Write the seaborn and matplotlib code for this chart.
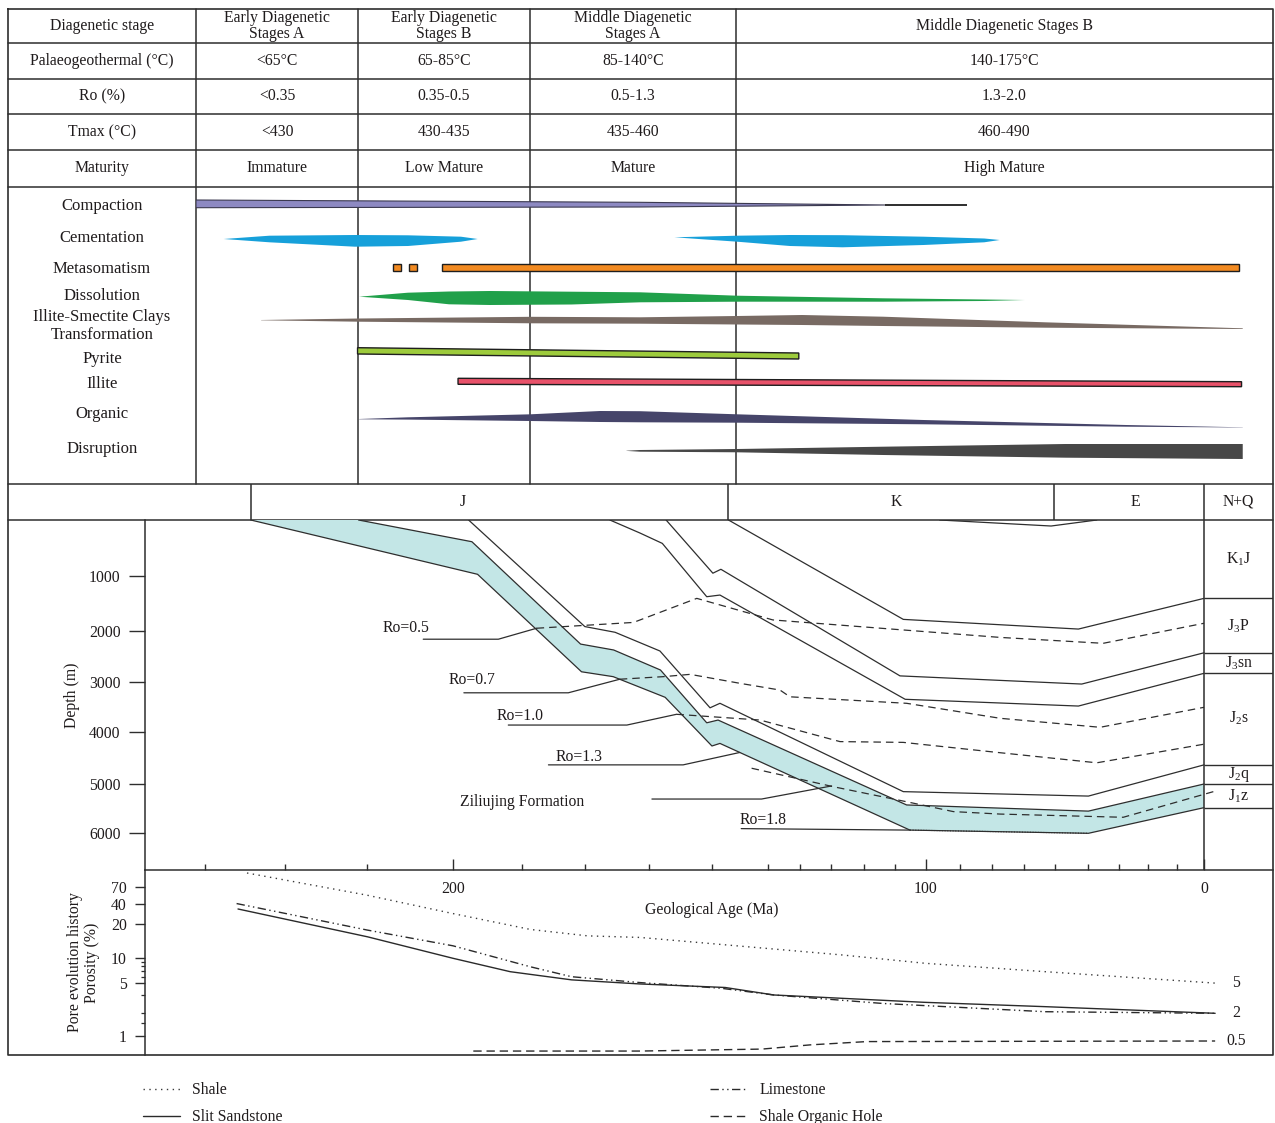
import numpy as np
import matplotlib
matplotlib.use("Agg")
import matplotlib.pyplot as plt
import seaborn as sns

# ------------------------------------------------------------------
# Diagenetic stage table
# ------------------------------------------------------------------
row_titles = ["Diagenetic stage", "Palaeogeothermal (°C)", "Ro (%)", "Tmax (°C)", "Maturity"]
stage_headers = ["Early Diagenetic\nStages A", "Early Diagenetic\nStages B",
                 "Middle Diagenetic\nStages A", "Middle Diagenetic Stages B"]
palaeotemp = ["<65°C", "65-85°C", "85-140°C", "140-175°C"]
ro_range = ["<0.35", "0.35-0.5", "0.5-1.3", "1.3-2.0"]
tmax_range = ["<430", "430-435", "435-460", "460-490"]
maturity = ["Immature", "Low Mature", "Mature", "High Mature"]

# ------------------------------------------------------------------
# Diagenetic processes: position along the sequence (%) and the
# extent of each intensity profile above / below its row line
# ------------------------------------------------------------------
process_names = ["Compaction", "Cementation", "Metasomatism", "Dissolution",
                 "Illite-Smectite Clays\nTransformation", "Pyrite", "Illite",
                 "Organic", "Disruption"]

compaction_x = [0.0, 41.2, 64.0]
compaction_up = [4.0, 1.7, -1.0]
compaction_dn = [3.7, 3.0, 1.0]
compaction_tail_end = 71.6

cement1_x = [2.57, 6.82, 14.76, 19.68, 24.6, 26.15]
cement1_up = [1.0, 4.3, 5.0, 4.7, 3.3, 1.0]
cement1_dn = [-1.0, 2.3, 6.7, 6.0, 1.7, -1.0]
cement2_x = [44.42, 50.25, 55.15, 60.03, 67.55, 73.19, 74.62]
cement2_up = [2.7, 4.3, 5.0, 4.8, 3.3, 1.5, 0.0]
cement2_dn = [-2.7, 1.7, 6.0, 7.3, 5.0, 2.3, 0.0]

metasomatism_spans = [(18.26, 19.02), (19.78, 20.52), (22.8, 96.88)]

dissolution_x = [15.15, 19.68, 23.49, 27.28, 34.86, 41.23, 50.25, 63.79, 73.19, 76.95]
dissolution_up = [1.3, 5.3, 6.5, 7.0, 6.3, 5.7, 2.3, -0.3, -1.5, -2.0]
dissolution_dn = [-1.3, 2.0, 6.3, 7.0, 6.5, 4.3, 3.7, 3.7, 3.0, 2.0]

ismectite_x = [6.05, 15.08, 31.07, 41.23, 50.25, 56.27, 63.79, 78.83, 97.19]
ismectite_up = [2.0, 3.5, 5.2, 4.7, 6.0, 7.0, 5.3, -0.3, -6.3]
ismectite_dn = [-1.7, -0.3, 1.3, 1.7, 2.5, 3.0, 4.0, 5.7, 7.0]

pyrite_span = (15.0, 55.97)
illite_span = (24.33, 97.08)

organic_x = [15.15, 19.68, 31.07, 37.51, 41.23, 50.25, 67.55, 86.35, 97.19]
organic_up = [0.0, 1.7, 4.7, 8.0, 7.8, 4.7, -1.0, -6.0, -8.3]
organic_dn = [0.3, 0.6, 2.0, 3.0, 3.3, 3.7, 5.3, 7.7, 8.5]

disruption_x = [39.97, 41.23, 50.25, 63.79, 80.72, 97.19]
disruption_up = [0.3, 1.0, 2.0, 4.3, 7.0, 7.0]
disruption_dn = [-0.1, 0.7, 1.3, 4.0, 6.7, 8.0]

# ------------------------------------------------------------------
# Burial history (age in Ma, depth in m)
# ------------------------------------------------------------------
period_names = ["J", "K", "E", "N+Q"]
period_bounds = [242.8, 141.7, 53.9, 0.0]
period_label_age = [198.0, 106.2, 24.8, -12.4]

j1z_top_age = [220.0, 196.0, 173.0, 166.0, 156.1, 146.3, 143.9, 104.0, 41.5, 0.0]
j1z_top_depth = [0, 390, 2255, 2370, 2760, 3810, 3755, 5425, 5550, 5000]
j1z_base_age = [242.8, 194.8, 172.8, 166.1, 155.1, 145.2, 143.5, 103.3, 41.5, 0.0]
j1z_base_depth = [0, 975, 2795, 2890, 3300, 4265, 4215, 5935, 6000, 5480]
j2q_top_age = [196.7, 172.1, 165.7, 156.2, 145.6, 143.5, 104.7, 41.5, 0.0]
j2q_top_depth = [0, 1920, 2025, 2390, 3510, 3420, 5155, 5245, 4630]
j2s_top_age = [166.8, 160.4, 155.7, 146.3, 143.5, 104.3, 45.1, 0.0]
j2s_top_depth = [0, 235, 420, 1380, 1350, 3340, 3475, 2825]
j3sn_top_age = [154.9, 145.0, 143.3, 105.4, 43.9, 0.0]
j3sn_top_depth = [0, 955, 885, 2875, 3035, 2425]
j3p_top_age = [141.7, 104.7, 45.1, 0.0]
j3p_top_depth = [0, 1790, 1965, 1410]
erosion_age = [94.9, 54.9, 38.5]
erosion_depth = [0, 108, 0]

formation_names = ["K$_1$J", "J$_3$P", "J$_3$sn", "J$_2$s", "J$_2$q", "J$_1$z"]

ro05_age = [182.3, 161.8, 148.4, 132.3, 73.2, 36.2, 0.0]
ro05_depth = [1950, 1845, 1410, 1800, 2125, 2240, 1860]
ro07_age = [164.7, 155.5, 149.8, 139.3, 130.8, 128.7, 104.0, 73.2, 37.3, 0.0]
ro07_depth = [2940, 2890, 2845, 3020, 3155, 3290, 3420, 3720, 3900, 3500]
ro10_age = [152.7, 135.0, 118.1, 104.7, 73.2, 38.5, 0.0]
ro10_depth = [3640, 3755, 4180, 4195, 4395, 4590, 4230]
ro13_age = [136.8, 119.5, 104.0, 90.0, 73.2, 29.0, -4.3]
ro13_depth = [4695, 5055, 5360, 5560, 5610, 5675, 5140]
ro18_age = [103.3, 41.5]
ro18_depth = [5935, 6000]

callout_text = ["Ro=0.5", "Ro=0.7", "Ro=1.0", "Ro=1.3", "Ziliujing Formation", "Ro=1.8"]
callout_label_age = [210.0, 196.0, 185.8, 173.3, 185.4, 134.4]
callout_label_depth = [1945, 2955, 3675, 4480, 5365, 5730]
callout_leader_age = [[206.3, 190.4, 182.3], [197.7, 175.6, 164.7], [188.3, 163.2, 152.7],
                      [179.8, 151.3, 139.3], [157.9, 134.7, 119.9], [139.0, 103.3]]
callout_leader_depth = [[2160, 2160, 1950], [3210, 3210, 2940], [3855, 3855, 3640],
                        [4630, 4630, 4390], [5305, 5305, 5040], [5905, 5935]]

age_major = [200, 100, 0]
age_minor = [252.5, 235.6, 218.1, 185.5, 172.1, 158.5, 145.2, 133.4, 126.6, 119.9,
             113.1, 106.5, 87.6, 76.1, 64.8, 53.6, 41.8, 30.6, 20.0, 9.7]
depth_ticks = [1000, 2000, 3000, 4000, 5000, 6000]

# ------------------------------------------------------------------
# Porosity evolution (%)
# ------------------------------------------------------------------
shale_age = [243.6, 218.2, 200.0, 183.6, 171.5, 160.4, 117.6, 100.0, 57.0, -5.0]
shale_phi = [100, 54, 29, 18, 15.8, 15.3, 10.7, 8.7, 6.9, 5]
sand_age = [245.5, 218.1, 200.0, 187.9, 174.9, 160.4, 142.4, 132.1, 100.4, 57.1, -4.0]
sand_phi = [34, 15.5, 10, 6.9, 5.5, 4.9, 4.4, 3.5, 2.8, 2.45, 2]
lime_age = [245.8, 218.2, 200.0, 183.6, 174.9, 160.4, 143.3, 132.1, 109.0, 57.1, -4.0]
lime_phi = [41, 17.8, 12.9, 7.9, 6.0, 5.1, 4.3, 3.5, 2.7, 2.1, 2]
org_age = [195.7, 160.4, 134.6, 124.4, 112.4, -4.0]
org_phi = [0.17, 0.17, 0.21, 0.33, 0.47, 0.5]
phi_end_labels = ["5", "2", "0.5"]
phi_end_values = [5, 2, 0.5]
phi_ticks = [1, 5, 10, 20, 40, 70]
phi_minor = [9, 8, 7, 6, 3.5, 2, 1.5]

# ------------------------------------------------------------------
# Style
# ------------------------------------------------------------------
sns.set_theme(style="ticks")
plt.rcParams["font.family"] = ["Liberation Serif", "DejaVu Serif"]
plt.rcParams["mathtext.fontset"] = "custom"
plt.rcParams["mathtext.rm"] = "Liberation Serif"
plt.rcParams["mathtext.it"] = "Liberation Serif:italic"
plt.rcParams["font.size"] = 11.3

INK = "#1f1b1c"
LINE = "#2e2e2e"
FS = 11.3
FS_PROC = 12

W, H = 1275, 1123
fig = plt.figure(figsize=(W / 100, H / 100), dpi=100)
fig.patch.set_facecolor("white")


def box(x0, y0, x1, y1):
    return [x0 / W, 1 - y1 / H, (x1 - x0) / W, (y1 - y0) / H]


# page grid (pixels)
FRAME_L, FRAME_R, FRAME_T, FRAME_B = 8, 1273, 9, 1055
TABLE_ROWS = [9, 43, 79, 114, 150, 187]
STAGE_COLS = [8, 196, 358, 530, 736, 1273]
PROC_BOTTOM = 484
PERIOD_BOTTOM = 520
AXIS_LEFT = 145
AGE_AXIS_Y = 870

# ------------------------------------------------------------------
# Axis scales: piecewise scales following the drawn tick spacing
# ------------------------------------------------------------------
AGE_KNOTS = np.array([400.0, 200.0, 100.0, 0.0, -60.0])
AGE_PIX = np.array([453 - 200 * 4.725, 453.0, 925.5, 1204.0, 1204 + 60 * 2.785])


def age_fwd(a):
    return np.interp(-np.asarray(a, dtype=float), -AGE_KNOTS, AGE_PIX)


def age_inv(p):
    return -np.interp(np.asarray(p, dtype=float), AGE_PIX, -AGE_KNOTS)


DEPTH_KNOTS = np.array([-2000, 0, 1000, 2000, 3000, 4000, 5000, 6000, 9000], dtype=float)
DEPTH_PIX = np.array([408.6, 520, 575.7, 631, 682.3, 732.3, 784, 833.3, 983.3])


def depth_fwd(d):
    return np.interp(np.asarray(d, dtype=float), DEPTH_KNOTS, DEPTH_PIX)


def depth_inv(p):
    return np.interp(np.asarray(p, dtype=float), DEPTH_PIX, DEPTH_KNOTS)


PHI_KNOTS = np.log10([0.01, 0.1, 0.5, 1, 5, 10, 20, 40, 70, 100, 1000])
PHI_PIX = np.array([1071, 1056, 1041, 1036, 983.3, 958.3, 924.3, 904.3, 887.3, 873, 803])


def phi_fwd(v):
    v = np.clip(np.asarray(v, dtype=float), 1e-6, None)
    return np.interp(np.log10(v), PHI_KNOTS, -PHI_PIX)


def phi_inv(t):
    return 10 ** np.interp(np.asarray(t, dtype=float), -PHI_PIX, PHI_KNOTS)


AGE_OLDEST = float(age_inv(AXIS_LEFT))
AGE_YOUNGEST = float(age_inv(FRAME_R))


def age_axis(ax):
    # the age scale decreases to the right; limits are given in increasing
    # order so that the bbox keeps the oldest age at the left edge
    ax.set_xscale("function", functions=(age_fwd, age_inv))
    ax.set_xlim(AGE_YOUNGEST, AGE_OLDEST)


def trace(ax, xs, ys, ls="-", lw=0.9, color=LINE):
    sns.lineplot(x=xs, y=ys, ax=ax, sort=False, estimator=None, legend=False,
                 color=color, linewidth=lw)
    ln = ax.lines[-1]
    ln.set_linestyle(ls)
    return ln


# ------------------------------------------------------------------
# Frame, table grid and text
# ------------------------------------------------------------------
frame = fig.add_axes([0, 0, 1, 1])
frame.set_xlim(0, W)
frame.set_ylim(H, 0)
frame.axis("off")

frame.plot([FRAME_L, FRAME_R, FRAME_R, FRAME_L, FRAME_L],
           [FRAME_T, FRAME_T, FRAME_B, FRAME_B, FRAME_T], color=LINE, lw=1.2)
for y in TABLE_ROWS[1:] + [PROC_BOTTOM, PERIOD_BOTTOM]:
    frame.plot([FRAME_L, FRAME_R], [y, y], color=LINE, lw=1.1)
for x in STAGE_COLS[1:-1]:
    frame.plot([x, x], [FRAME_T, PROC_BOTTOM], color=LINE, lw=1.1)

col_mid = [(a + b) / 2 for a, b in zip(STAGE_COLS[:-1], STAGE_COLS[1:])]
row_mid = [(a + b) / 2 for a, b in zip(TABLE_ROWS[:-1], TABLE_ROWS[1:])]
table_rows = [stage_headers, palaeotemp, ro_range, tmax_range, maturity]
for r, (title, cells) in enumerate(zip(row_titles, table_rows)):
    frame.text(col_mid[0], row_mid[r], title, ha="center", va="center", fontsize=FS, color=INK)
    for c, txt in enumerate(cells):
        frame.text(col_mid[c + 1], row_mid[r], txt, ha="center", va="center",
                   fontsize=FS, color=INK, linespacing=1.02)

process_label_y = [206, 238, 269, 296, 326, 359, 384, 414, 449]
for name, y in zip(process_names, process_label_y):
    frame.text(col_mid[0], y, name, ha="center", va="center", fontsize=FS_PROC,
               color=INK, linespacing=1.1)

# ------------------------------------------------------------------
# Diagenetic process chart
# ------------------------------------------------------------------
proc = fig.add_axes(box(STAGE_COLS[1], TABLE_ROWS[-1], FRAME_R, PROC_BOTTOM))
proc.set_facecolor("none")
proc.set_xlim(0, 100)
proc.set_ylim(PROC_BOTTOM - TABLE_ROWS[-1], 0)
proc.axis("off")

row_center = [17, 53, 80.5, 111, 135, 165, 195, 232, 264]


def lens(xs, up, dn, yc, color, edge=None, lw=0.0):
    xs = np.asarray(xs, dtype=float)
    top = yc - np.asarray(up, dtype=float)
    bot = yc + np.asarray(dn, dtype=float)
    proc.fill(np.r_[xs, xs[::-1]], np.r_[top, bot[::-1]], facecolor=color,
              edgecolor=edge if edge else color, linewidth=lw, joinstyle="miter")


lens(compaction_x, compaction_up, compaction_dn, row_center[0], "#8d89c2", edge="#3b3950", lw=0.8)
proc.plot([compaction_x[-1], compaction_tail_end], [row_center[0] + 1, row_center[0] + 1],
          color="#1e1e1e", lw=1.3, solid_capstyle="butt")
lens(cement1_x, cement1_up, cement1_dn, row_center[1], "#16a0da")
lens(cement2_x, cement2_up, cement2_dn, row_center[1], "#16a0da")
for x0, x1 in metasomatism_spans:
    lens([x0, x1], [3.5, 3.5], [4.0, 4.0], row_center[2], "#f28a21", edge="#1e1e1e", lw=1.0)
lens(dissolution_x, dissolution_up, dissolution_dn, row_center[3], "#20a04a")
lens(ismectite_x, ismectite_up, ismectite_dn, row_center[4], "#786a63")
lens(list(pyrite_span), [4.3, -1.0], [2.0, 7.0], row_center[5], "#9dcb3c", edge="#1e1e1e", lw=1.0)
lens(list(illite_span), [3.7, 0.3], [2.3, 4.7], row_center[6], "#e8526a", edge="#1e1e1e", lw=1.0)
lens(organic_x, organic_up, organic_dn, row_center[7], "#46456a")
lens(disruption_x, disruption_up, disruption_dn, row_center[8], "#474747")

# ------------------------------------------------------------------
# Period header
# ------------------------------------------------------------------
hdr = fig.add_axes(box(AXIS_LEFT, PROC_BOTTOM, FRAME_R, PERIOD_BOTTOM))
hdr.set_facecolor("none")
age_axis(hdr)
hdr.set_ylim(0, 1)
hdr.axis("off")
for b in period_bounds:
    hdr.axvline(b, color=LINE, lw=1.1)
for name, a in zip(period_names, period_label_age):
    hdr.text(a, 0.5, name, ha="center", va="center", fontsize=FS, color=INK)

# ------------------------------------------------------------------
# Burial history
# ------------------------------------------------------------------
bur = fig.add_axes(box(AXIS_LEFT, PERIOD_BOTTOM, FRAME_R, AGE_AXIS_Y))
bur.set_facecolor("none")
age_axis(bur)
bur.set_yscale("function", functions=(depth_fwd, depth_inv))
bur.set_ylim(depth_inv(AGE_AXIS_Y), depth_inv(PERIOD_BOTTOM))

bur.fill(np.r_[j1z_top_age, j1z_base_age[::-1]], np.r_[j1z_top_depth, j1z_base_depth[::-1]],
         facecolor="#c3e6e6", edgecolor="none", zorder=1)

horizons = [(j3p_top_age, j3p_top_depth), (j3sn_top_age, j3sn_top_depth),
            (j2s_top_age, j2s_top_depth), (j2q_top_age, j2q_top_depth),
            (j1z_top_age, j1z_top_depth), (j1z_base_age, j1z_base_depth)]
for a, d in horizons:
    trace(bur, a, d)
trace(bur, erosion_age, erosion_depth)

RO_DASH = (0, (6, 4))
for a, d in [(ro05_age, ro05_depth), (ro07_age, ro07_depth),
             (ro10_age, ro10_depth), (ro13_age, ro13_depth)]:
    trace(bur, a, d, ls=RO_DASH)
trace(bur, ro18_age, ro18_depth, ls=(0, (1, 1.4)), lw=0.8)

for txt, la, ld, xa, xd in zip(callout_text, callout_label_age, callout_label_depth,
                               callout_leader_age, callout_leader_depth):
    bur.text(la, ld, txt, ha="center", va="center", fontsize=FS, color=INK)
    trace(bur, xa, xd)

# formation column on the right
bur.axvline(0, color=LINE, lw=1.1)
tops = [0] + [d[-1] for _, d in horizons]
bur.hlines(tops[1:], 0, AGE_YOUNGEST, color=LINE, lw=1.0)
for name, d0, d1 in zip(formation_names, tops[:-1], tops[1:]):
    bur.text(AGE_YOUNGEST / 2, (d0 + d1) / 2, name, ha="center", va="center",
             fontsize=FS, color=INK)

for s in ["top", "right"]:
    bur.spines[s].set_visible(False)
for s in ["left", "bottom"]:
    bur.spines[s].set_color(LINE)
    bur.spines[s].set_linewidth(1.1)

bur.set_yticks(depth_ticks)
bur.set_yticklabels([str(t) for t in depth_ticks])
bur.tick_params(axis="y", which="major", direction="out", length=11.5, width=1.0,
                pad=6, labelsize=FS, colors=LINE, labelcolor=INK, left=True)
bur.set_xticks(age_major)
bur.set_xticklabels([str(t) for t in age_major])
bur.set_xticks(age_minor, minor=True)
bur.tick_params(axis="x", which="major", direction="in", length=8, width=1.0,
                pad=8, labelsize=FS, colors=LINE, labelcolor=INK, bottom=True)
bur.tick_params(axis="x", which="minor", direction="in", length=4.3, width=1.0,
                colors=LINE, bottom=True)
bur.set_xlabel("")
bur.set_ylabel("")
bur.text((72 - AXIS_LEFT) / (FRAME_R - AXIS_LEFT), 0.5, "Depth (m)", rotation=90,
         ha="center", va="center", fontsize=FS, color=INK, transform=bur.transAxes)

# ------------------------------------------------------------------
# Porosity evolution
# ------------------------------------------------------------------
por = fig.add_axes(box(AXIS_LEFT, AGE_AXIS_Y, FRAME_R, FRAME_B))
por.set_facecolor("none")
age_axis(por)
por.set_yscale("function", functions=(phi_fwd, phi_inv))
por.set_ylim(phi_inv(-FRAME_B), phi_inv(-AGE_AXIS_Y))

ln_shale = trace(por, shale_age, shale_phi, ls=(0, (1, 3.2)), lw=1.0, color="#3a3a3a")
ln_sand = trace(por, sand_age, sand_phi, ls="-", lw=1.0, color="#2a2a2a")
ln_lime = trace(por, lime_age, lime_phi, ls=(0, (6, 2.5, 1, 2.5, 1, 2.5)), lw=1.0, color="#2a2a2a")
ln_org = trace(por, org_age, org_phi, ls=(0, (6, 3.5)), lw=1.0, color="#2a2a2a")

for txt, v in zip(phi_end_labels, phi_end_values):
    por.text(-11.5, v, txt, ha="center", va="center", fontsize=FS, color=INK)

por.text((712 - AXIS_LEFT) / (FRAME_R - AXIS_LEFT), (FRAME_B - 910) / (FRAME_B - AGE_AXIS_Y),
         "Geological Age (Ma)", ha="center", va="center", fontsize=FS, color=INK,
         transform=por.transAxes)
por.text((83.5 - AXIS_LEFT) / (FRAME_R - AXIS_LEFT), 0.5,
         "Pore evolution history\nPorosity (%)", rotation=90, ha="center", va="center",
         fontsize=FS, color=INK, linespacing=1.15, multialignment="center",
         transform=por.transAxes)

for s in ["top", "right", "bottom"]:
    por.spines[s].set_visible(False)
por.spines["left"].set_color(LINE)
por.spines["left"].set_linewidth(1.1)
por.set_yticks(phi_ticks)
por.set_yticklabels([str(t) for t in phi_ticks])
por.set_yticks(phi_minor, minor=True)
por.set_yticklabels([], minor=True)
por.tick_params(axis="y", which="major", direction="out", length=7, width=1.0, pad=6,
                labelsize=FS, colors=LINE, labelcolor=INK, left=True)
por.tick_params(axis="y", which="minor", direction="out", length=3, width=0.9,
                colors=LINE, left=True)
por.set_xticks([])
por.tick_params(axis="x", which="both", bottom=False, labelbottom=False)
por.set_xlabel("")
por.set_ylabel("")

# ------------------------------------------------------------------
# Legend
# ------------------------------------------------------------------
leg_kw = dict(loc="upper left", frameon=False, borderpad=0, borderaxespad=0,
              handlelength=2.35, handletextpad=0.8, labelspacing=0.72,
              fontsize=FS, labelcolor=INK)
fig.legend([ln_shale, ln_sand], ["Shale", "Slit Sandstone"],
           bbox_to_anchor=(143 / W, 1 - 1082 / H), **leg_kw)
fig.legend([ln_lime, ln_org], ["Limestone", "Shale Organic Hole"],
           bbox_to_anchor=(710 / W, 1 - 1082 / H), **leg_kw)

fig.savefig("out.png", dpi=100)
